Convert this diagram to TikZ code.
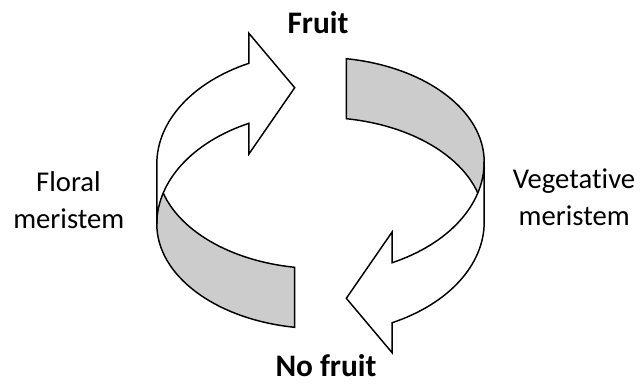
\documentclass[tikz,border=0pt]{standalone}
\usepackage{fontspec}
\setmainfont{Carlito}[Ligatures=NoCommon]
\newcommand\ribbonshape{%
  % gray inner face of the ribbon (lower half)
  \draw[grayband] (156.8,164)
    arc[start angle=180, end angle=99.07, x radius=163.7, y radius=104.6]
    -- (294.7,327.3)
    arc[start angle=99.07, end angle=180, x radius=163.7, y radius=104.6]
    -- cycle;
  % white curved arrow (upper half)
  \draw[whitearrow] (156.8,164)
    arc[start angle=180, end angle=244.06, x radius=163.7, y radius=112]
    -- (248.9,33.3) -- (294.7,87.7) -- (248.9,154) -- (248.9,123.3)
    arc[start angle=244.06, end angle=180, x radius=163.7, y radius=112]
    -- cycle;
}
\begin{document}
\begin{tikzpicture}[x=0.75pt,y=-0.75pt,
  grayband/.style={draw=black, fill=gray!40, line width=1.1pt},
  whitearrow/.style={draw=black, fill=white, line width=1.1pt},
  boldlab/.style={inner sep=0pt, anchor=base, font=\fontsize{23.5}{28}\selectfont\bfseries},
  lab/.style={inner sep=0pt, anchor=base, font=\fontsize{21.5}{26}\selectfont}]
\useasboundingbox (0,0) rectangle (641,383);
\ribbonshape
\begin{scope}[rotate around={180:(320.5,193)}]
\ribbonshape
\end{scope}
\node[boldlab] (fruit) at (318,33.3) {Fruit};
\node[boldlab] (nofruit) at (326,376.5) {No fruit};
\node[lab] (floral) at (68.5,191.7) {Floral};
\node[lab] (floralm) at (68.8,228.3) {meristem};
\node[lab] (veg) at (574,188.3) {Vegetative};
\node[lab] (vegm) at (574.2,225) {meristem};
\end{tikzpicture}
\end{document}
